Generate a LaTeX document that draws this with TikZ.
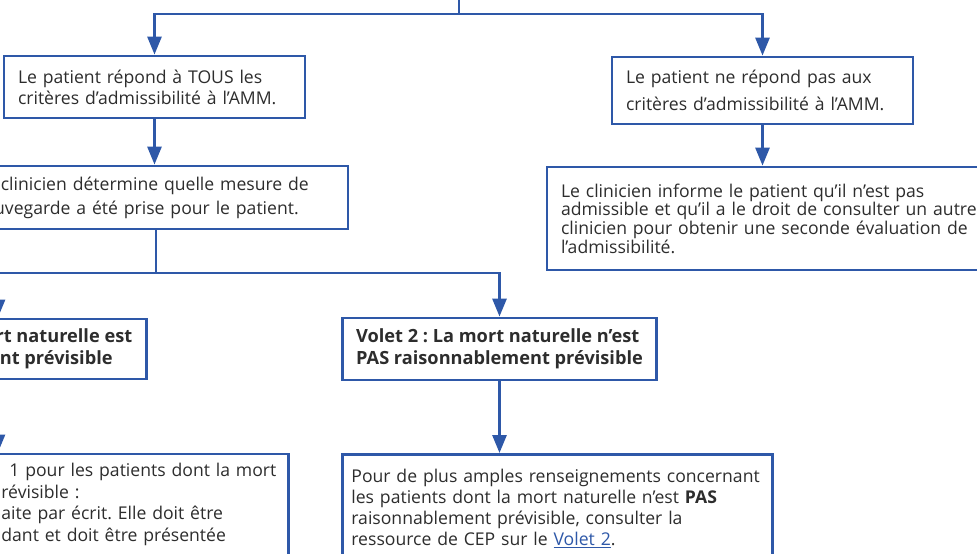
\documentclass[tikz,border=0pt]{standalone}
\usepackage{fontspec}
\setmainfont{Open Sans}
\usetikzlibrary{arrows.meta}

\definecolor{flowblue}{RGB}{46,88,168}
\definecolor{flowtext}{RGB}{45,45,45}
\newcommand{\boxfont}[1]{\fontsize{17.6}{#1}\selectfont}
\newcommand{\boldfont}[1]{\fontsize{18.2}{#1}\selectfont\bfseries}
\newcommand{\cutbelow}{\rule[-40pt]{0pt}{40pt}}
\frenchspacing
\hyphenpenalty=10000

\tikzset{
  box/.style={draw=flowblue, line width=2.8pt, fill=white, text=flowtext,
    align=left, inner xsep=14pt, inner ysep=8pt},
  link/.style={draw=flowblue, line width=2.8pt},
  arrow/.style={link, -{Triangle[width=14pt,length=18pt]}},
}

\begin{document}
\begin{tikzpicture}[x=1pt,y=-1pt]
        \useasboundingbox (0,0) rectangle (977,554);
        \clip (0,0) rectangle (977,554);
        % first level
        \node [box, text width=273pt, minimum height=62pt, font=\boxfont{21}] (tous) at (154.5,87)
            {Le patient répond à TOUS les\\critères d’admissibilité à l’AMM.};
        \node [box, text width=273pt, minimum height=67pt, font=\boxfont{27}] (nonadm) at (762.5,90.5)
            {Le patient ne répond pas aux\\critères d’admissibilité à l’AMM.};
        % second level
        \node [box, text width=358pt, minimum height=63pt, font=\boxfont{24}] (mesure) at (155,197.5)
            {Le clinicien détermine quelle mesure de\\sauvegarde a été prise pour le patient.};
        \node [box, text width=440pt, minimum height=103pt, font=\boxfont{18.7}] (informe) at (781,218.5)
            {Le clinicien informe le patient qu’il n’est pas\\admissible et qu’il a le droit de consulter un autre\\clinicien pour obtenir une seconde évaluation de\\l’admissibilité.};
        % volets
        \node [box, minimum width=296pt, minimum height=60pt, font=\boldfont{22}] (volet1) at (-2,349)
            {Volet 1~: La mort naturelle est\\raisonnablement prévisible};
        \node [box, minimum width=313pt, minimum height=62pt, font=\boldfont{22}] (volet2) at (499.5,349)
            {Volet 2~: La mort naturelle n’est\\PAS raisonnablement prévisible};
        % details
        \node [box, anchor=north west, inner xsep=8pt, inner ysep=9.7pt, text width=279pt, font=\boxfont{21.5}] (criteres1) at (-8,452.5)
            {\hspace*{8pt}1 pour les patients dont la mort\\révisible~:\\aite par écrit. Elle doit être\\dant et doit être présentée\cutbelow};
        \node [box, anchor=north west, inner xsep=9pt, inner ysep=14.7pt, text width=412pt, font=\boxfont{21}] (volet2info) at (341,453)
            {Pour de plus amples renseignements concernant\\les patients dont la mort naturelle n’est \textbf{PAS}\\raisonnablement prévisible, consulter la\\ressource de CEP sur le {\color{flowblue}\underline{Volet 2}}.\cutbelow};
        % connectors
        \coordinate (top) at (459,-10);
        \coordinate (split1) at (459,14);
        \coordinate (split2) at (156,273);
        \draw [link] (top) -- (split1);
        \draw [arrow] (split1) -| (tous.north);
        \draw [arrow] (split1) -| (nonadm.north);
        \draw [arrow] (tous.south) -- (tous.south |- mesure.north);
        \draw [arrow] (nonadm.south) -- (nonadm.south |- informe.north);
        \draw [link] (split2 |- mesure.south) -- (split2);
        \draw [arrow] (split2) -| (volet1.north);
        \draw [arrow] (split2) -| (volet2.north);
        \draw [arrow] (volet1.south) -- (volet1.south |- criteres1.north);
        \draw [arrow] (volet2.south) -- (volet2.south |- volet2info.north);
\end{tikzpicture}
\end{document}
